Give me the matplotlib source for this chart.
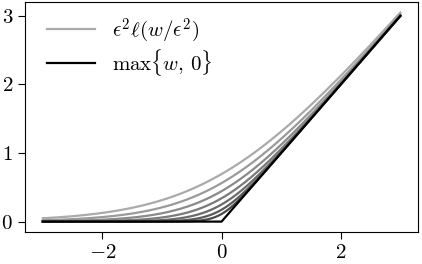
import numpy as np
import matplotlib
matplotlib.use("Agg")
import matplotlib.pyplot as plt

plt.rcParams['font.family'] = 'serif'
plt.rcParams['font.serif'] = ['cmr10']
plt.rcParams['mathtext.fontset'] = 'cm'
plt.rcParams['axes.formatter.use_mathtext'] = True

eps_values = [1.0, 0.9, 0.8, 0.7, 0.6, 0.5, 0.4]
grey_levels = ['#aaaaaa', '#9a9a9a', '#8a8a8a', '#7a7a7a', '#6a6a6a', '#5a5a5a', '#4a4a4a']
w_min, w_max = -3, 3


def softplus(x):
    return np.logaddexp(0, x)


w = np.linspace(w_min, w_max, 601)

fig = plt.figure(figsize=(4.22, 2.64), dpi=100)
ax = fig.add_axes([0.059, 0.121, 0.932, 0.871])

for i, (eps, col) in enumerate(zip(eps_values, grey_levels)):
    e2 = eps ** 2
    ax.plot(w, e2 * softplus(w / e2), color=col, lw=1.6,
            label=r'$\epsilon^2\ell(w/\epsilon^2)$' if i == 0 else None)

ax.plot(w, np.maximum(w, 0), color='black', lw=1.6, label=r'$\max\{w,\,0\}$')

ax.set_xticks([-2, 0, 2])
ax.set_yticks([0, 1, 2, 3])
ax.tick_params(labelsize=15, length=5)
ax.legend(loc='upper left', bbox_to_anchor=(0.02, 1.0), frameon=False,
          fontsize=15, handlelength=2.3, borderaxespad=0.3, labelspacing=0.1)

fig.savefig('out.png', dpi=100)
